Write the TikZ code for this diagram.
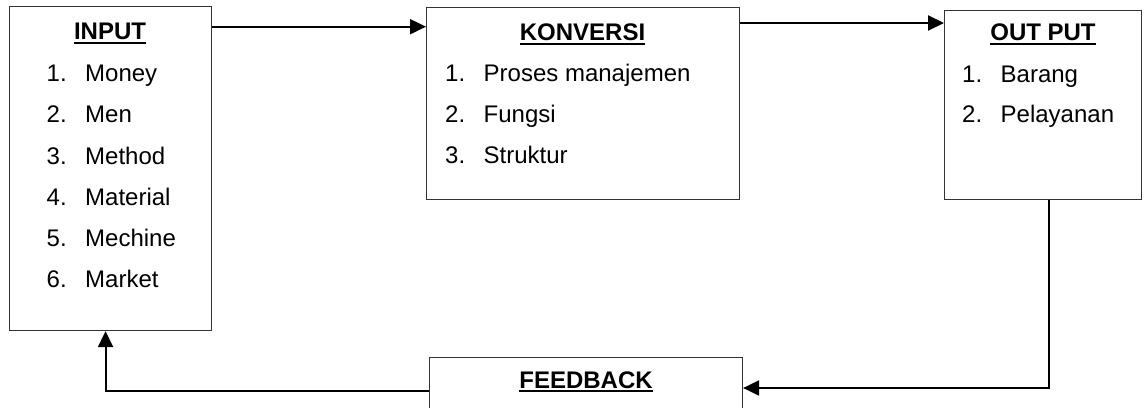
\documentclass[tikz,border=0pt]{standalone}
\usepackage{fontspec}
\setmainfont{Liberation Sans}
\usetikzlibrary{arrows.meta}
\tikzset{
  box/.style={draw=black!80, line width=1.1pt, rectangle, anchor=north west, inner sep=0pt},
  conn/.style={line width=2pt, -{Triangle[length=16pt,width=15pt]}},
  ttl/.style={anchor=base, inner sep=0pt, font=\fontsize{24}{28}\selectfont\bfseries},
  itm/.style={anchor=base west, inner sep=0pt, font=\fontsize{24}{28}\selectfont},
  uline/.style={line width=2pt},
}
\newcommand{\numit}[2]{\makebox[38.5pt][l]{#1}#2}
\begin{document}
\begin{tikzpicture}[x=1pt,y=-1pt]
\useasboundingbox (0,0) rectangle (1145,407);
% boxes
\node[box, minimum width=202pt, minimum height=324pt] (in) at (9,6) {};
\node[box, minimum width=312.5pt, minimum height=192pt] (kon) at (426,7.3) {};
\node[box, minimum width=197pt, minimum height=189.6pt] (out) at (944,9.7) {};
\node[box, minimum width=313pt, minimum height=100pt] (fb) at (429,357) {};
% titles
\node[ttl] (tin) at (110,39.3) {INPUT};
\node[ttl] (tkon) at (582.5,40.7) {KONVERSI};
\node[ttl] (tout) at (1043,40.7) {OUT PUT};
\node[ttl] (tfb) at (586,388) {FEEDBACK};
\foreach \t in {tin,tkon,tout,tfb}
  \draw[uline] ([yshift=-3.3pt]\t.base west) -- ([yshift=-3.3pt]\t.base east);
% INPUT items
\node[itm] (i1) at (46.5,81.7) {\numit{1.}{Money}};
\node[itm] (i2) at (46.5,122.7) {\numit{2.}{Men}};
\node[itm] (i3) at (46.5,164) {\numit{3.}{Method}};
\node[itm] (i4) at (46.5,205) {\numit{4.}{Material}};
\node[itm] (i5) at (46.5,246.5) {\numit{5.}{Mechine}};
\node[itm] (i6) at (46.5,287.5) {\numit{6.}{Market}};
% KONVERSI items
\node[itm] (k1) at (445,81.7) {\numit{1.}{Proses manajemen}};
\node[itm] (k2) at (445,122.7) {\numit{2.}{Fungsi}};
\node[itm] (k3) at (445,163.5) {\numit{3.}{Struktur}};
% OUT PUT items
\node[itm] (o1) at (962,82.5) {\numit{1.}{Barang}};
\node[itm] (o2) at (962,122.7) {\numit{2.}{Pelayanan}};
% connectors
\draw[conn] ([yshift=-20.7pt]in.north east) -- ([yshift=-20.7pt]in.north east -| kon.west);
\draw[conn] ([yshift=-15.7pt]kon.north east) -- ([yshift=-15.7pt]kon.north east -| out.west);
\draw[conn] ([xshift=6pt]out.south) |- ([yshift=-31pt]fb.north east);
\draw[conn] ([yshift=-33.7pt]fb.north west) -| ([xshift=-5pt]in.south);
\end{tikzpicture}
\end{document}
